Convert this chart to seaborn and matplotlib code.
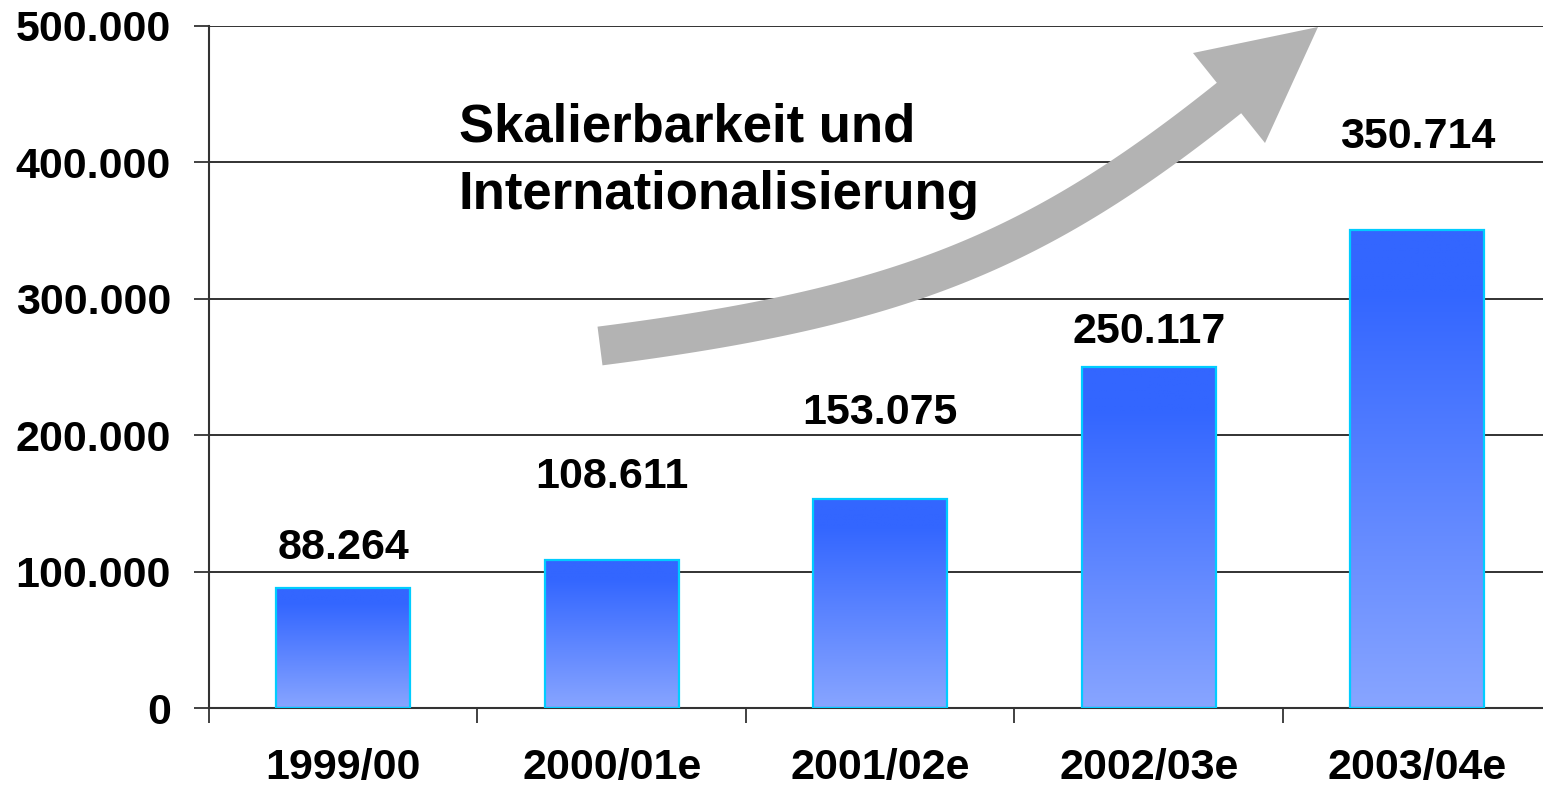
import numpy as np
import matplotlib
matplotlib.use("Agg")
import matplotlib.pyplot as plt
import seaborn as sns
from matplotlib.patches import Polygon
from matplotlib.colors import to_rgb

# ---- data ----
categories = ["1999/00", "2000/01e", "2001/02e", "2002/03e", "2003/04e"]
values = [88264, 108611, 153075, 250117, 350714]
label_heights = [117000, 169500, 216500, 276000, 418500]
y_ticks = [0, 100000, 200000, 300000, 400000, 500000]
annotation_lines = ["Skalierbarkeit und", "Internationalisierung"]

def de_fmt(v):
    return f"{int(v):,}".replace(",", ".")

sns.set_theme(style="white")
plt.rcParams["font.family"] = ["Liberation Sans", "DejaVu Sans"]
plt.rcParams["font.weight"] = "bold"

W, H = 1543, 793
fig = plt.figure(figsize=(W / 100, H / 100), dpi=100)
fig.patch.set_facecolor("white")
ax = fig.add_axes([209 / W, (H - 708) / H, 1342.5 / W, 682 / H])
ax.set_facecolor("white")

sns.barplot(x=categories, y=values, color="#3366FF", width=0.5,
            edgecolor="#00CCFF", linewidth=1.6, ax=ax, zorder=3)

top_c = np.array(to_rgb("#3366FF"))
bot_c = np.array(to_rgb("#88A5FF"))
t = np.linspace(0, 1, 256)  # 0 bottom -> 1 top
t2 = np.clip(t * 1.15, 0, 1)
grad = (bot_c[None, :] * (1 - t2[:, None]) + top_c[None, :] * t2[:, None])[:, None, :]

for p in list(ax.patches):
    x0, y0 = p.get_x(), p.get_y()
    w, h = p.get_width(), p.get_height()
    im = ax.imshow(grad, extent=[x0, x0 + w, y0, y0 + h], origin="lower",
                   aspect="auto", zorder=2.5)
    im.set_clip_path(p)
    p.set_facecolor("none")

ax.set_xlim(-0.5, 4.5)
ax.set_ylim(0, 500000)

# value labels
for i, (v, lh) in enumerate(zip(values, label_heights)):
    ax.text(i, lh, de_fmt(v), ha="center", va="center", fontsize=31,
            fontweight="bold", color="black", zorder=5)

# axes styling
ax.set_yticks(y_ticks)
ax.set_yticklabels([de_fmt(v) for v in y_ticks], fontsize=31, fontweight="bold")
ax.yaxis.grid(True, color="#222222", linewidth=1.3, zorder=0)
ax.set_axisbelow(True)
ax.tick_params(axis="y", which="major", direction="out", length=10.5,
               width=1.3, color="#333333", pad=17, left=True, labelcolor="black")
ax.set_xticks(range(len(categories)))
ax.set_xticklabels(categories, fontsize=31, fontweight="bold")
ax.tick_params(axis="x", which="major", length=0, pad=29, labelcolor="black")
ax.set_xticks(np.arange(-0.5, 5.0, 1.0), minor=True)
ax.tick_params(axis="x", which="minor", direction="out", length=10.5,
               width=1.3, color="#333333", bottom=True)
for s in ["top", "right"]:
    ax.spines[s].set_visible(False)
for s in ["left", "bottom"]:
    ax.spines[s].set_color("#333333")
    ax.spines[s].set_linewidth(1.5)
ax.set_xlabel("")
ax.set_ylabel("")

# annotation text
fig.text(459 / W, 1 - 128 / H, annotation_lines[0], fontsize=38,
         fontweight="bold", ha="left", va="center", color="black")
fig.text(459 / W, 1 - 195 / H, annotation_lines[1], fontsize=38,
         fontweight="bold", ha="left", va="center", color="black")

# curved arrow (decoration), pixel coords
P0 = np.array([600.0, 346.0])
P3 = np.array([1229.0, 98.0])
d0 = np.array([39.0, -5.0]); d0 /= np.linalg.norm(d0)
d3 = np.array([90.0, -72.0]); d3 /= np.linalg.norm(d3)
P1 = P0 + 300 * d0
P2 = P3 - 250 * d3
tt = np.linspace(0, 1, 120)[:, None]
pts = ((1 - tt) ** 3) * P0 + 3 * ((1 - tt) ** 2) * tt * P1 + 3 * (1 - tt) * tt ** 2 * P2 + tt ** 3 * P3
der = 3 * ((1 - tt) ** 2) * (P1 - P0) + 6 * (1 - tt) * tt * (P2 - P1) + 3 * tt ** 2 * (P3 - P2)
der /= np.linalg.norm(der, axis=1)[:, None]
nrm = np.column_stack([der[:, 1], -der[:, 0]])
hw = 19.5
upper = pts + hw * nrm
lower = pts - hw * nrm
head_left = np.array([1193.0, 53.0])
tip = np.array([1318.0, 27.0])
head_right = np.array([1265.0, 143.0])
poly = np.vstack([lower, head_right[None], tip[None], head_left[None], upper[::-1]])
polyf = np.column_stack([poly[:, 0] / W, 1 - poly[:, 1] / H])
fig.patches.append(Polygon(polyf, closed=True, facecolor="#B3B3B3",
                           edgecolor="none", transform=fig.transFigure, zorder=10))

fig.savefig("out.png", dpi=100, facecolor="white")
